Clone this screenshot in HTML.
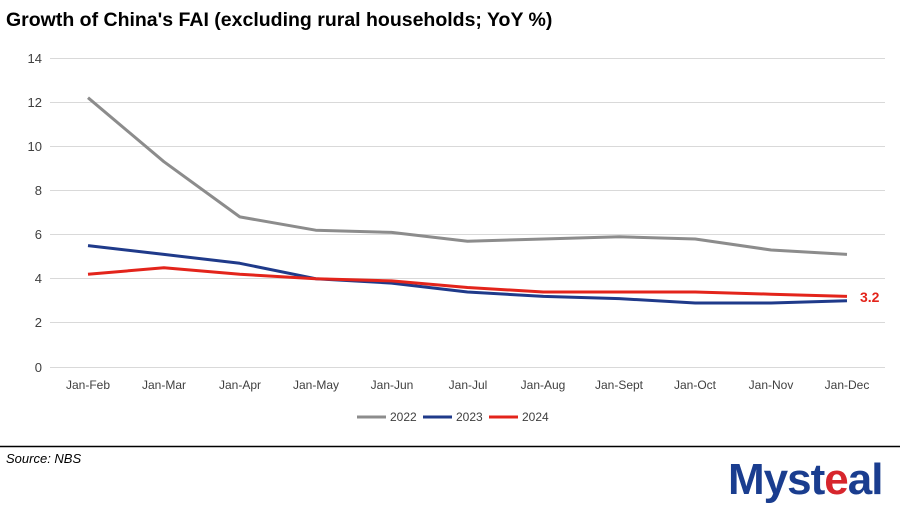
<!DOCTYPE html>
<html><head><meta charset="utf-8"><style>
body{margin:0;background:#fff;width:900px;height:509px;overflow:hidden;font-family:"Liberation Sans",sans-serif}
</style></head><body>
<svg width="900" height="509" xmlns="http://www.w3.org/2000/svg" font-family="Liberation Sans, sans-serif">
<text x="6" y="26" font-size="19.5" font-weight="bold" fill="#000">Growth of China's FAI (excluding rural households; YoY %)</text>
<g stroke="#d9d9d9" stroke-width="1">
<line x1="50" x2="885" y1="58.5" y2="58.5"/><line x1="50" x2="885" y1="102.5" y2="102.5"/><line x1="50" x2="885" y1="146.5" y2="146.5"/><line x1="50" x2="885" y1="190.5" y2="190.5"/><line x1="50" x2="885" y1="234.5" y2="234.5"/><line x1="50" x2="885" y1="278.5" y2="278.5"/><line x1="50" x2="885" y1="322.5" y2="322.5"/><line x1="50" x2="885" y1="367.5" y2="367.5"/>
</g>
<g font-size="13" fill="#404040" text-anchor="end">
<text x="42" y="63">14</text><text x="42" y="107">12</text><text x="42" y="151">10</text><text x="42" y="195">8</text><text x="42" y="239">6</text><text x="42" y="283">4</text><text x="42" y="327">2</text><text x="42" y="372">0</text>
</g>
<g font-size="12" fill="#404040" text-anchor="middle">
<text x="88" y="389">Jan-Feb</text><text x="164" y="389">Jan-Mar</text><text x="240" y="389">Jan-Apr</text><text x="316" y="389">Jan-May</text><text x="392" y="389">Jan-Jun</text><text x="468" y="389">Jan-Jul</text><text x="543" y="389">Jan-Aug</text><text x="619" y="389">Jan-Sept</text><text x="695" y="389">Jan-Oct</text><text x="771" y="389">Jan-Nov</text><text x="847" y="389">Jan-Dec</text>
</g>
<g fill="none" stroke-width="3" stroke-linejoin="round">
<polyline stroke="#8c8c8c" points="88,97.7 163.9,161.7 239.8,216.9 315.7,230.2 391.6,232.4 467.5,241.2 543.4,239 619.3,236.8 695.2,239 771.1,250 847,254.4"/>
<polyline stroke="#1f3a8a" points="88,245.6 163.9,254.4 239.8,263.3 315.7,278.7 391.6,283.1 467.5,292 543.4,296.4 619.3,298.6 695.2,303 771.1,303 847,300.8"/>
<polyline stroke="#e3241b" points="88,274.3 163.9,267.7 239.8,274.3 315.7,278.7 391.6,280.9 467.5,287.5 543.4,292 619.3,292 695.2,292 771.1,294.2 847,296.4"/>
</g>
<text x="860" y="302" font-size="14" font-weight="bold" fill="#e3241b">3.2</text>
<g font-size="12" fill="#404040">
<line x1="357" x2="386" y1="417" y2="417" stroke="#8c8c8c" stroke-width="3"/><text x="390" y="421">2022</text>
<line x1="423" x2="452" y1="417" y2="417" stroke="#1f3a8a" stroke-width="3"/><text x="456" y="421">2023</text>
<line x1="489" x2="518" y1="417" y2="417" stroke="#e3241b" stroke-width="3"/><text x="522" y="421">2024</text>
</g>
<line x1="0" x2="900" y1="446.5" y2="446.5" stroke="#000" stroke-width="1.5"/>
<text x="6" y="463" font-size="13" font-style="italic" fill="#000">Source: NBS</text>
<text x="728" y="494" font-size="44" font-weight="bold" fill="#1a3d8f" letter-spacing="-1">Myst<tspan fill="#d7262d">e</tspan>al</text>
</svg>
</body></html>
